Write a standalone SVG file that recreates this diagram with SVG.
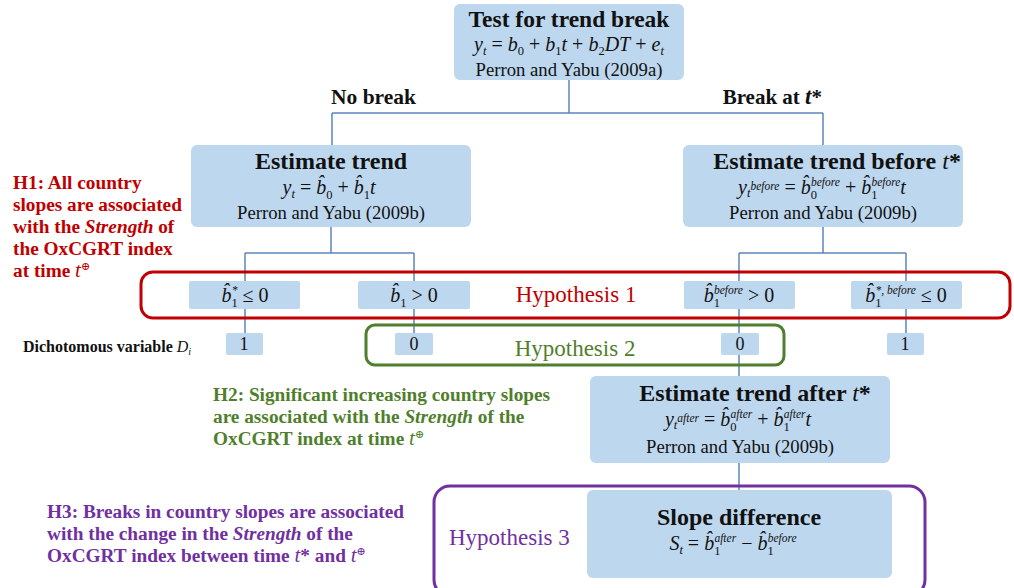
<svg xmlns="http://www.w3.org/2000/svg" width="1014" height="588" viewBox="0 0 1014 588">
<style>
text{font-family:"Liberation Serif","DejaVu Serif",serif;fill:#111}
.box{fill:#bdd7ee}
.ttl{font-size:24px;font-weight:bold}
.ref{font-size:18.7px}
.m{font-size:20px}
.i{font-style:italic}
.sb{font-size:12.5px}
.sp{font-size:11.5px;font-style:italic}
.c{fill:none;stroke:#5a86bd;stroke-width:1.5}
.red{fill:#c00000}
.grn{fill:#4f7f2c}
.pur{fill:#7030a0}
.ht{font-size:19.3px;font-weight:bold}
.hyp{font-size:23px}
</style>
<rect width="1014" height="588" fill="#ffffff"/>

<g id="connectors">
<path class="c" d="M569 80V113M332 113H823M332 113V145M823 113V145"/>
<path class="c" d="M331 227V253M245 253H414M245 253V281M414 253V281M245 309V333M414 309V333"/>
<path class="c" d="M823 227V253M739 253H906M739 253V281M906 253V281M739 309V333M906 309V333M739 355V376M739 463V490"/>
</g>

<g id="hypothesis-frames">
<rect x="141" y="272" width="869" height="46" rx="12" fill="none" stroke="#c00000" stroke-width="3"/>
<rect x="366" y="325" width="418" height="40" rx="9" fill="none" stroke="#4f7f2c" stroke-width="3"/>
<rect x="434" y="486" width="491" height="110" rx="16" fill="none" stroke="#7030a0" stroke-width="3"/>
</g>

<g id="node-test">
<rect class="box" x="454" y="4" width="230" height="76" rx="6"/>
<text x="569" y="27" text-anchor="middle" style="font-size:23.5px;font-weight:bold">Test for trend break</text>
<text class="m" x="569" y="51" text-anchor="middle"><tspan class="i">y</tspan><tspan class="sb i" dy="4">t</tspan><tspan dy="-4"> = </tspan><tspan class="i">b</tspan><tspan class="sb" dy="4">0</tspan><tspan dy="-4"> + </tspan><tspan class="i">b</tspan><tspan class="sb" dy="4">1</tspan><tspan class="i" dy="-4">t</tspan><tspan> + </tspan><tspan class="i">b</tspan><tspan class="sb" dy="4">2</tspan><tspan class="i" dy="-4">DT</tspan><tspan> + </tspan><tspan class="i">e</tspan><tspan class="sb i" dy="4">t</tspan></text>
<text class="ref" x="569" y="76" text-anchor="middle">Perron and Yabu (2009a)</text>
</g>

<g id="label-nobreak"><text x="331" y="104" style="font-size:21.5px;font-weight:bold">No break</text></g>
<g id="label-break"><text x="822" y="104" text-anchor="end" style="font-size:21px;font-weight:bold">Break at <tspan class="i" style="font-size:23px">t</tspan>*</text></g>

<g id="node-estimate">
<rect class="box" x="191" y="145" width="280" height="82" rx="6"/>
<text class="ttl" x="331" y="169" text-anchor="middle">Estimate trend</text>
<text class="m" x="329" y="194" text-anchor="middle"><tspan class="i">y</tspan><tspan class="sb i" dy="4">t</tspan><tspan dy="-4"> = </tspan><tspan class="i">b&#770;</tspan><tspan class="sb" dy="5">0</tspan><tspan dy="-5"> + </tspan><tspan class="i">b&#770;</tspan><tspan class="sb" dy="5">1</tspan><tspan class="i" dy="-5">t</tspan></text>
<text class="ref" x="331" y="219" text-anchor="middle">Perron and Yabu (2009b)</text>
</g>

<g id="node-before">
<rect class="box" x="683" y="145" width="280" height="82" rx="6"/>
<text class="ttl" x="837" y="169" text-anchor="middle">Estimate trend before <tspan class="i" style="font-weight:normal">t</tspan>*</text>
<text class="m" x="822" y="194" text-anchor="middle"><tspan class="i">y</tspan><tspan class="sb i" dy="3">t</tspan><tspan class="sp" dy="-7">before</tspan><tspan dy="4"> = </tspan><tspan class="i">b&#770;</tspan><tspan class="sb" dy="5">0</tspan><tspan class="sp" dx="-6" dy="-13">before</tspan><tspan dy="8"> + </tspan><tspan class="i">b&#770;</tspan><tspan class="sb" dy="5">1</tspan><tspan class="sp" dx="-6" dy="-13">before</tspan><tspan class="i" dy="8">t</tspan></text>
<text class="ref" x="823" y="219" text-anchor="middle">Perron and Yabu (2009b)</text>
</g>

<g id="node-b1star-le0">
<rect class="box" x="189" y="281" width="111" height="28" rx="2"/>
<text class="m" x="245" y="302" text-anchor="middle"><tspan class="i">b&#770;</tspan><tspan class="sb" dy="5">1</tspan><tspan class="sp" dx="-6" dy="-13">*</tspan><tspan dy="8"> ≤ 0</tspan></text>
</g>
<g id="node-b1-gt0">
<rect class="box" x="358" y="281" width="112" height="28" rx="2"/>
<text class="m" x="414" y="302" text-anchor="middle"><tspan class="i">b&#770;</tspan><tspan class="sb" dy="5">1</tspan><tspan dy="-5"> &gt; 0</tspan></text>
</g>
<g id="node-b1before-gt0">
<rect class="box" x="684" y="281" width="111" height="28" rx="2"/>
<text class="m" x="739" y="302" text-anchor="middle"><tspan class="i">b&#770;</tspan><tspan class="sb" dy="5">1</tspan><tspan class="sp" dx="-6" dy="-13">before</tspan><tspan dy="8"> &gt; 0</tspan></text>
</g>
<g id="node-b1starbefore-le0">
<rect class="box" x="851" y="281" width="111" height="28" rx="2"/>
<text class="m" x="906" y="302" text-anchor="middle"><tspan class="i">b&#770;</tspan><tspan class="sb" dy="5">1</tspan><tspan class="sp" dx="-6" dy="-13">*, before</tspan><tspan dy="8"> ≤ 0</tspan></text>
</g>

<g id="label-h1box"><text class="hyp red" x="576" y="302" text-anchor="middle">Hypothesis 1</text></g>
<g id="label-h2box"><text class="hyp grn" x="575" y="356" text-anchor="middle">Hypothesis 2</text></g>
<g id="label-h3box"><text class="hyp pur" x="449" y="545">Hypothesis 3</text></g>

<g id="label-dichotomous"><text x="23" y="352" style="font-size:16px;font-weight:bold">Dichotomous variable <tspan class="i" style="font-weight:normal">D</tspan><tspan class="i" style="font-size:10px;font-weight:normal" dy="3">i</tspan></text></g>

<g id="node-d1a"><rect class="box" x="226" y="333" width="37" height="22" rx="2"/><text x="244" y="350" text-anchor="middle" style="font-size:18px">1</text></g>
<g id="node-d0a"><rect class="box" x="395" y="333" width="38" height="22" rx="2"/><text x="414" y="350" text-anchor="middle" style="font-size:18px">0</text></g>
<g id="node-d0b"><rect class="box" x="721" y="333" width="38" height="22" rx="2"/><text x="740" y="350" text-anchor="middle" style="font-size:18px">0</text></g>
<g id="node-d1b"><rect class="box" x="887" y="333" width="37" height="22" rx="2"/><text x="905" y="350" text-anchor="middle" style="font-size:18px">1</text></g>

<g id="node-after">
<rect class="box" x="590" y="376" width="300" height="87" rx="6"/>
<text class="ttl" x="755" y="401" text-anchor="middle">Estimate trend after <tspan class="i" style="font-weight:normal">t</tspan>*</text>
<text class="m" x="738" y="426" text-anchor="middle"><tspan class="i">y</tspan><tspan class="sb i" dy="3">t</tspan><tspan class="sp" dy="-7">after</tspan><tspan dy="4"> = </tspan><tspan class="i">b&#770;</tspan><tspan class="sb" dy="5">0</tspan><tspan class="sp" dx="-6" dy="-13">after</tspan><tspan dy="8"> + </tspan><tspan class="i">b&#770;</tspan><tspan class="sb" dy="5">1</tspan><tspan class="sp" dx="-6" dy="-13">after</tspan><tspan class="i" dy="8">t</tspan></text>
<text class="ref" x="740" y="453" text-anchor="middle">Perron and Yabu (2009b)</text>
</g>

<g id="node-slope">
<rect class="box" x="587" y="490" width="305" height="88" rx="6"/>
<text class="ttl" x="739" y="525" text-anchor="middle">Slope difference</text>
<text class="m" x="733" y="550" text-anchor="middle"><tspan class="i">S</tspan><tspan class="sb i" dy="4">t</tspan><tspan dy="-4"> = </tspan><tspan class="i">b&#770;</tspan><tspan class="sb" dy="5">1</tspan><tspan class="sp" dx="-6" dy="-13">after</tspan><tspan dy="8"> − </tspan><tspan class="i">b&#770;</tspan><tspan class="sb" dy="5">1</tspan><tspan class="sp" dx="-6" dy="-13">before</tspan></text>
</g>

<g id="text-h1">
<text class="ht red" x="13" y="189">H1: All country</text>
<text class="ht red" x="13" y="211">slopes are associated</text>
<text class="ht red" x="13" y="233">with the <tspan class="i">Strength</tspan> of</text>
<text class="ht red" x="13" y="255">the OxCGRT index</text>
<text class="ht red" x="13" y="277">at time <tspan class="i" style="font-weight:normal;font-size:21px">t</tspan><tspan style="font-size:11px;font-weight:normal" dy="-7">⊕</tspan></text>
</g>

<g id="text-h2">
<text class="ht grn" x="213" y="401">H2: Significant increasing country slopes</text>
<text class="ht grn" x="213" y="423">are associated with the <tspan class="i">Strength</tspan> of  the</text>
<text class="ht grn" x="213" y="445">OxCGRT index at time  <tspan class="i" style="font-weight:normal;font-size:21px">t</tspan><tspan style="font-size:11px;font-weight:normal" dy="-7">⊕</tspan></text>
</g>

<g id="text-h3">
<text class="ht pur" x="47" y="518">H3: Breaks in country slopes are associated</text>
<text class="ht pur" x="47" y="540">with the change in the <tspan class="i">Strength</tspan> of  the</text>
<text class="ht pur" x="47" y="562">OxCGRT index between time <tspan class="i" style="font-weight:normal;font-size:21px">t</tspan>* and  <tspan class="i" style="font-weight:normal;font-size:21px">t</tspan><tspan style="font-size:11px;font-weight:normal" dy="-7">⊕</tspan></text>
</g>
</svg>
